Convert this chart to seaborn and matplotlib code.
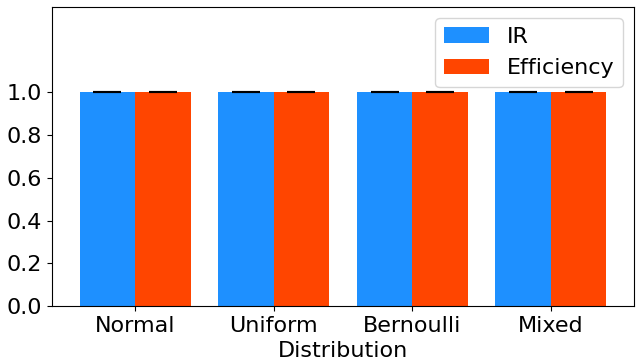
import matplotlib
matplotlib.use('Agg')
import matplotlib.pyplot as plt
import seaborn as sns
import pandas as pd
import numpy as np

# data
distributions = ['Normal', 'Uniform', 'Bernoulli', 'Mixed']
ir = [1.0, 1.0, 1.0, 1.0]
efficiency = [1.0, 1.0, 1.0, 1.0]
ir_err = [0.0, 0.0, 0.0, 0.0]
eff_err = [0.0, 0.0, 0.0, 0.0]

df = pd.DataFrame({
    'Distribution': distributions * 2,
    'value': ir + efficiency,
    'metric': ['IR'] * 4 + ['Efficiency'] * 4,
})

fig, ax = plt.subplots(figsize=(6.4, 3.6), dpi=100)
sns.barplot(data=df, x='Distribution', y='value', hue='metric',
            palette=['#1E90FF', '#FF4500'], saturation=1, width=0.8,
            errorbar=None, ax=ax)

# error bars with caps
errs = ir_err + eff_err
vals = ir + efficiency
patches = [p for p in ax.patches if p.get_height() > 0][:8]
for p, v, e in zip(patches, vals, errs):
    xc = p.get_x() + p.get_width() / 2
    ax.errorbar(xc, v, yerr=e, color='black', capsize=10, capthick=1.5, elinewidth=1.5)

ax.set_ylim(0, 1.4)
ax.set_xlim(-0.6, 3.6)
ax.set_yticks(np.arange(0, 1.01, 0.2))
ax.set_ylabel('')
ax.set_xlabel('Distribution', fontsize=16)
ax.tick_params(labelsize=16)
ax.legend(fontsize=16, loc='upper right')

plt.subplots_adjust(left=52/640, right=634/640, top=1-7/360, bottom=1-306/360)
plt.savefig('out.png', dpi=100)
